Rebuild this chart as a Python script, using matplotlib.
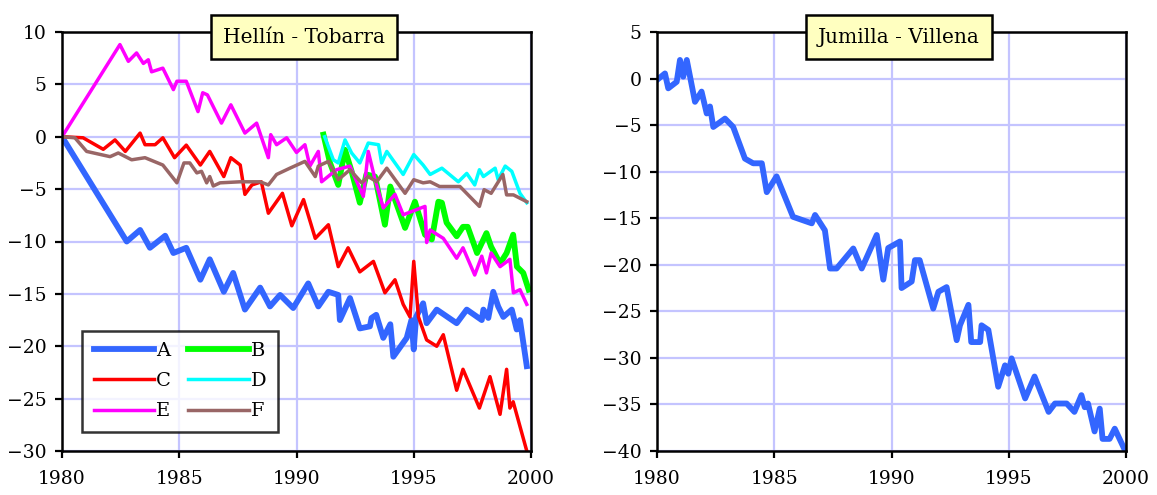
import matplotlib
matplotlib.use("Agg")
import matplotlib.pyplot as plt

# ---------------- data (Hellín - Tobarra) ----------------
a_x = [1980.0, 1982.76, 1983.33, 1983.75, 1984.4, 1984.75, 1985.3, 1985.9, 1986.3, 1986.9, 1987.3, 1987.8,
       1988.45, 1988.87, 1989.3, 1989.86, 1990.5, 1990.93, 1991.36, 1991.78, 1991.85, 1992.28, 1992.7,
       1993.13, 1993.2, 1993.4, 1993.7, 1994.0, 1994.13, 1994.7, 1994.9, 1995.0, 1995.1, 1995.4, 1995.55,
       1995.98, 1996.83, 1997.26, 1997.9, 1997.97, 1998.18, 1998.39, 1998.6, 1998.82, 1999.18, 1999.39,
       1999.53, 1999.82]
a_y = [0.0, -10.0, -8.9, -10.6, -9.45, -11.1, -10.6, -13.65, -11.7, -14.8, -13.0, -16.5,
       -14.4, -16.2, -15.1, -16.35, -14.0, -16.2, -14.8, -15.1, -17.5, -15.4, -18.3,
       -18.1, -17.3, -17.0, -19.2, -17.9, -21.0, -19.2, -17.5, -20.3, -17.2, -15.9, -17.8,
       -16.5, -17.8, -16.5, -17.5, -16.5, -17.3, -14.8, -16.2, -17.2, -16.5, -18.4,
       -17.5, -21.9]

b_x = [1991.15, 1991.43, 1991.78, 1992.07, 1992.35, 1992.7, 1992.98, 1993.35, 1993.77, 1994.0, 1994.63,
       1995.05, 1995.48, 1995.77, 1996.05, 1996.2, 1996.4, 1996.83, 1997.1, 1997.3, 1997.7, 1998.1,
       1998.3, 1998.68, 1998.96, 1999.24, 1999.4, 1999.67, 1999.9]
b_y = [0.2, -2.5, -4.6, -1.25, -3.3, -6.3, -3.6, -3.8, -8.4, -4.75, -8.7,
       -6.2, -9.35, -9.8, -6.2, -6.3, -8.2, -9.5, -8.6, -8.6, -11.1, -9.2,
       -10.5, -12.1, -11.1, -9.35, -12.4, -13.0, -14.6]

c_x = [1980.0, 1980.9, 1981.76, 1982.26, 1982.7, 1983.33, 1983.54, 1983.97, 1984.3, 1984.8, 1985.3,
       1985.9, 1986.3, 1986.9, 1987.2, 1987.6, 1987.8, 1988.1, 1988.5, 1988.8, 1989.4, 1989.8,
       1990.3, 1990.8, 1991.36, 1991.78, 1992.2, 1992.7, 1993.28, 1993.77, 1994.2, 1994.55,
       1994.84, 1995.0, 1995.2, 1995.55, 1995.98, 1996.26, 1996.83, 1997.1, 1997.8, 1998.25,
       1998.68, 1998.96, 1999.1, 1999.24, 1999.82]
c_y = [0.0, -0.1, -1.2, -0.3, -1.4, 0.35, -0.76, -0.76, -0.1, -2.0, -0.8,
       -2.7, -1.4, -3.8, -2.0, -2.7, -5.5, -4.6, -4.3, -7.3, -5.4, -8.5,
       -6.0, -9.7, -8.4, -12.4, -10.6, -12.9, -11.9, -14.9, -13.65, -16.0,
       -17.2, -11.9, -17.2, -19.4, -20.0, -18.9, -24.2, -22.2, -25.9, -22.9,
       -26.5, -22.2, -25.9, -25.3, -30.0]

d_x = [1991.2, 1991.57, 1991.78, 1992.07, 1992.35, 1992.7, 1993.06, 1993.5, 1993.63, 1993.85, 1994.55,
       1995.0, 1995.4, 1995.7, 1996.2, 1996.9, 1997.26, 1997.6, 1997.8, 1997.97, 1998.47, 1998.6,
       1998.9, 1999.18, 1999.53, 1999.82]
d_y = [0.0, -2.2, -2.5, -0.3, -1.55, -2.5, -0.6, -0.76, -2.5, -1.4, -3.6,
       -1.7, -2.7, -3.6, -3.0, -4.3, -3.5, -4.6, -3.15, -3.8, -3.0, -4.1,
       -2.8, -3.3, -5.4, -6.3]

e_x = [1980.0, 1982.47, 1982.83, 1983.18, 1983.47, 1983.68, 1983.82, 1984.3, 1984.75, 1984.9, 1985.3,
       1985.8, 1986.0, 1986.2, 1986.8, 1987.2, 1987.8, 1988.3, 1988.8, 1988.9, 1989.15, 1989.58,
       1990.0, 1990.36, 1990.57, 1990.93, 1991.07, 1991.7, 1992.28, 1992.85, 1993.06, 1993.35,
       1993.7, 1994.2, 1994.55, 1995.48, 1995.55, 1995.7, 1996.26, 1996.83, 1997.1, 1997.6,
       1997.9, 1998.1, 1998.3, 1998.68, 1999.1, 1999.25, 1999.53, 1999.82]
e_y = [0.0, 8.8, 7.2, 8.0, 7.0, 7.35, 6.2, 6.55, 4.5, 5.3, 5.3,
       2.4, 4.2, 4.0, 1.3, 3.05, 0.35, 1.3, -2.0, 0.2, -0.76, -0.1,
       -1.5, -0.76, -2.8, -1.4, -4.3, -3.15, -2.8, -5.7, -1.4, -4.1,
       -6.8, -5.5, -7.45, -6.65, -10.1, -8.9, -9.7, -11.6, -10.6, -13.2,
       -11.4, -13.0, -11.1, -12.4, -11.7, -14.9, -14.6, -16.0]

f_x = [1980.0, 1980.55, 1981.05, 1982.05, 1982.4, 1982.97, 1983.54, 1984.3, 1984.9, 1985.2, 1985.45,
       1985.75, 1985.95, 1986.17, 1986.3, 1986.45, 1986.74, 1987.6, 1988.45, 1988.8, 1989.15, 1989.72,
       1990.36, 1990.8, 1990.93, 1991.36, 1991.78, 1992.28, 1992.78, 1993.06, 1993.42, 1993.85,
       1994.63, 1995.0, 1995.4, 1995.7, 1996.1, 1996.97, 1997.8, 1998.0, 1998.3, 1998.8,
       1998.96, 1999.25, 1999.82]
f_y = [0.0, -0.1, -1.4, -1.9, -1.55, -2.2, -2.0, -2.7, -4.4, -2.5, -2.5,
       -3.45, -3.3, -4.4, -3.8, -4.7, -4.4, -4.3, -4.3, -4.6, -3.6, -3.0,
       -2.35, -3.8, -2.8, -2.35, -4.1, -3.15, -4.4, -3.8, -4.3, -3.0,
       -5.4, -4.1, -4.4, -4.3, -4.75, -4.75, -6.65, -5.05, -5.4, -3.6,
       -5.55, -5.55, -6.2]

# ---------------- data (Jumilla - Villena) ----------------
j_x = [1980.0, 1980.34, 1980.48, 1980.84, 1980.98, 1981.12, 1981.27, 1981.62, 1981.9, 1982.12, 1982.26,
       1982.4, 1982.9, 1983.25, 1983.75, 1984.1, 1984.47, 1984.68, 1985.1, 1985.8, 1986.6, 1986.74,
       1987.16, 1987.38, 1987.66, 1988.37, 1988.73, 1989.37, 1989.65, 1989.86, 1990.36, 1990.43,
       1990.86, 1991.0, 1991.2, 1991.78, 1992.0, 1992.35, 1992.78, 1992.92, 1993.28, 1993.4,
       1993.78, 1993.84, 1994.13, 1994.55, 1994.84, 1994.98, 1995.12, 1995.7, 1996.1, 1996.7,
       1996.97, 1997.47, 1997.8, 1998.1, 1998.24, 1998.38, 1998.66, 1998.88, 1999.0, 1999.3,
       1999.52, 1999.95]
j_y = [-0.15, 0.55, -1.05, -0.35, 2.0, 0.2, 2.0, -2.5, -1.4, -3.75, -3.0,
       -5.2, -4.3, -5.2, -8.6, -9.1, -9.1, -12.2, -10.5, -14.85, -15.55, -14.65,
       -16.3, -20.4, -20.4, -18.25, -20.4, -16.8, -21.6, -18.2, -17.5, -22.5,
       -21.8, -19.5, -19.5, -24.7, -22.9, -22.4, -28.1, -26.5, -24.3, -28.3,
       -28.3, -26.5, -27.0, -33.1, -30.8, -31.7, -30.05, -34.35, -32.0, -35.8,
       -34.9, -34.9, -35.8, -34.0, -35.3, -34.9, -37.9, -35.45, -38.7, -38.7,
       -37.6, -39.9]

left_title = "Hellín - Tobarra"
right_title = "Jumilla - Villena"
x_ticks = [1980, 1985, 1990, 1995, 2000]
left_yticks = [10, 5, 0, -5, -10, -15, -20, -25, -30]
right_yticks = [5, 0, -5, -10, -15, -20, -25, -30, -35, -40]

plt.rcParams['font.family'] = ['DejaVu Serif']
plt.rcParams['font.size'] = 13.5

fig = plt.figure(figsize=(11.57, 4.95), dpi=100)
ax1 = fig.add_axes([62/1157, 1-451/495, 469/1157, 419/495])
ax2 = fig.add_axes([657/1157, 1-451/495, 469/1157, 419/495])

grid_c = '#C4C4FF'

def style(ax, yticks, ylim, title, tx):
    ax.set_xlim(1980, 2000)
    ax.set_ylim(*ylim)
    ax.set_xticks(x_ticks)
    ax.set_yticks(yticks)
    ax.grid(True, color=grid_c, linewidth=1.6)
    ax.set_axisbelow(True)
    for s in ax.spines.values():
        s.set_linewidth(1.8)
        s.set_color('black')
    ax.tick_params(direction='out', length=5, width=1.6, labelsize=13.5)
    ax.tick_params(axis='x', pad=9)
    ax.tick_params(axis='y', pad=6)
    ax.text(tx, 0.988, title, transform=ax.transAxes, ha='center', va='center', fontsize=14.5,
            bbox=dict(boxstyle='square,pad=0.6', facecolor='#FFFFC0', edgecolor='black', linewidth=1.8),
            zorder=10)

thick = 4.2
thin = 2.5
ax1.plot(a_x, a_y, color='#3366FF', lw=thick, label='A', solid_joinstyle='round')
ax1.plot(b_x, b_y, color='#00FF00', lw=thick, label='B', solid_joinstyle='round')
ax1.plot(c_x, c_y, color='#FF0000', lw=thin, label='C')
ax1.plot(d_x, d_y, color='#00FFFF', lw=thin, label='D')
ax1.plot(e_x, e_y, color='#FF00FF', lw=thin, label='E')
ax1.plot(f_x, f_y, color='#996666', lw=thin, label='F')
style(ax1, left_yticks, (-30, 10), left_title, 0.516)

h, l = ax1.get_legend_handles_labels()
order = [0, 2, 4, 1, 3, 5]
leg = ax1.legend([h[i] for i in order], [l[i] for i in order], ncol=2, loc='lower left',
                 bbox_to_anchor=(20/469, 19/419), borderaxespad=0, frameon=True, fancybox=False,
                 fontsize=14, handlelength=3.1, handletextpad=0.1, columnspacing=0.9,
                 labelspacing=0.62, borderpad=0.6)
leg.get_frame().set_edgecolor('black')
leg.get_frame().set_linewidth(1.8)

ax2.plot(j_x, j_y, color='#3366FF', lw=thick, solid_joinstyle='round')
style(ax2, right_yticks, (-40, 5), right_title, 0.516)

fig.savefig('out.png', dpi=100)
